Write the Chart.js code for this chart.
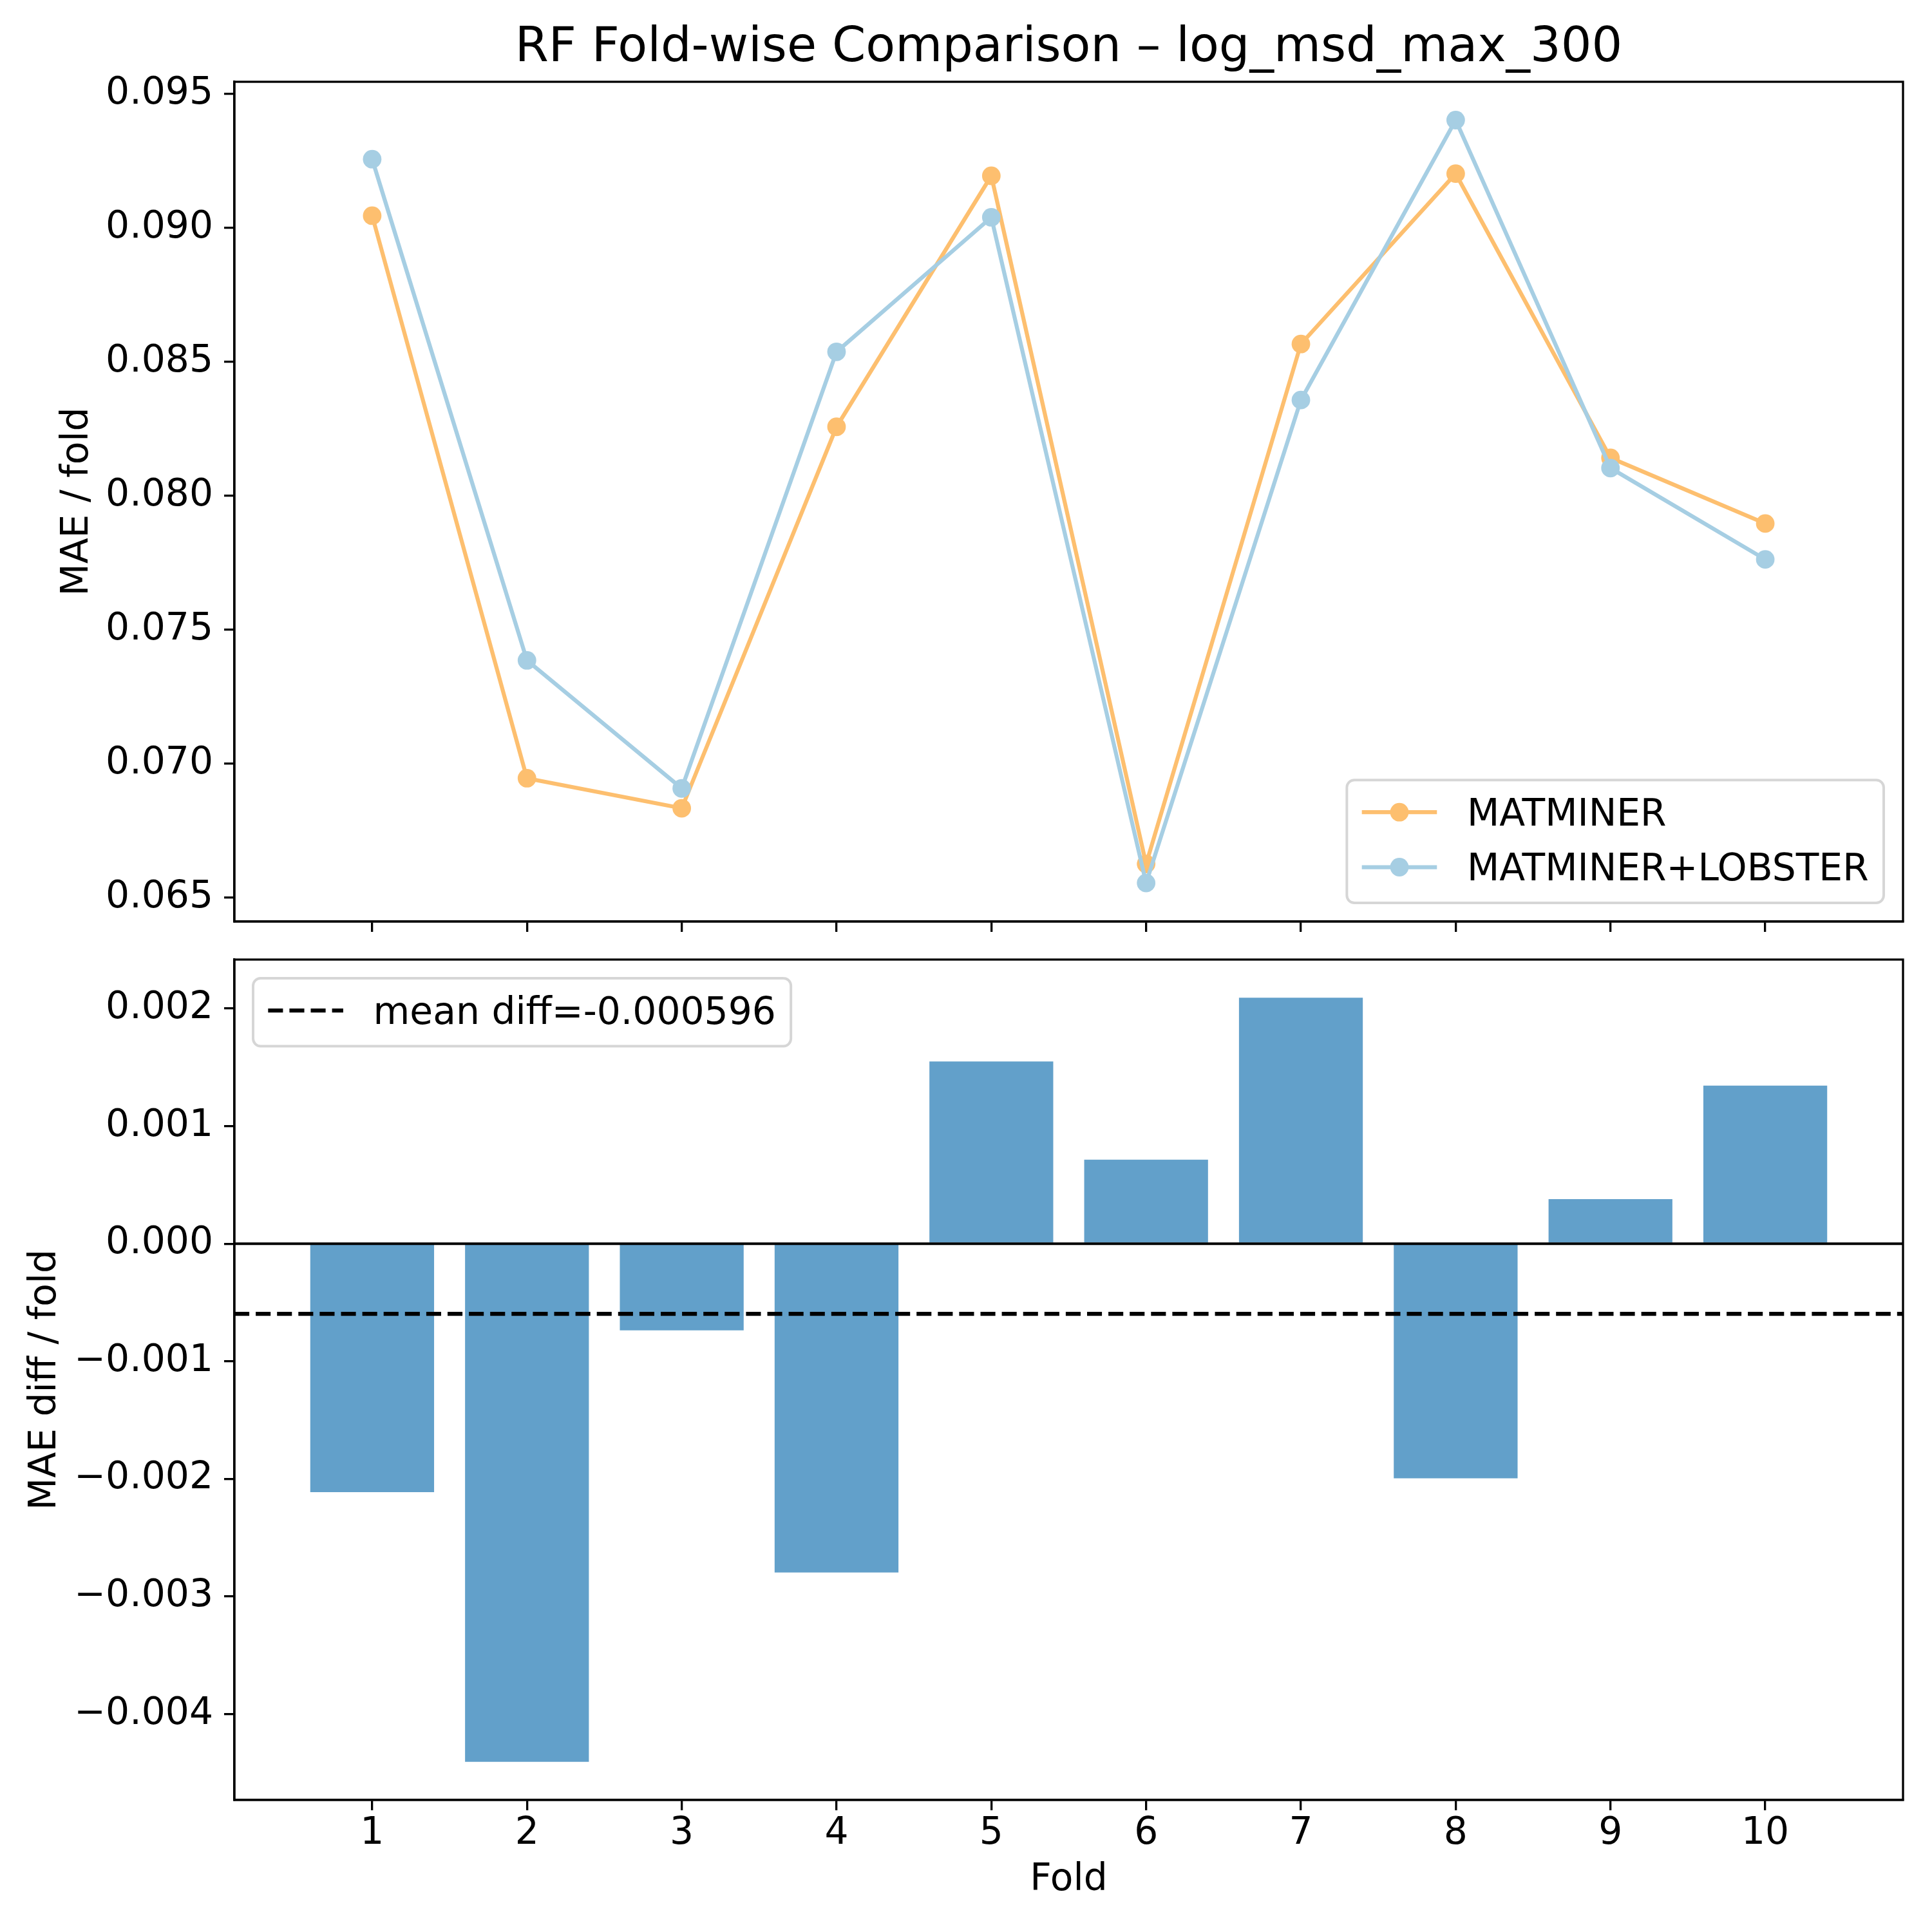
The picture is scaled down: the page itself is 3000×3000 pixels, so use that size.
<!DOCTYPE html>
<html>
<head>
<meta charset="utf-8">
<script src="https://cdn.jsdelivr.net/npm/chart.js@4.4.0/dist/chart.umd.min.js"></script>
<style>
  html, body { margin: 0; padding: 0; background: #ffffff; }
  #wrap { position: relative; width: 3000px; height: 3000px; background: #ffffff; }
  canvas { position: absolute; left: 0; }
</style>
</head>
<body>
<div id="wrap">
  <canvas id="topChart" width="3000" height="1460" style="top:0px"></canvas>
  <canvas id="botChart" width="3000" height="1540" style="top:1460px"></canvas>
</div>
<script>
// ---------------- data ----------------
const FOLDS = [1, 2, 3, 4, 5, 6, 7, 8, 9, 10];
const MATMINER = [0.09046, 0.06946, 0.06834, 0.08258, 0.09195, 0.06626, 0.08567, 0.09203, 0.08142, 0.07897];
const MATMINER_LOBSTER = [0.09257, 0.07386, 0.06908, 0.08538, 0.09040, 0.06555, 0.08358, 0.09403, 0.08104, 0.07763];
const MAE_DIFF = [-0.002114, -0.004407, -0.000737, -0.002797, 0.001550, 0.000715, 0.002092, -0.001995, 0.000379, 0.001344];
const MEAN_DIFF = -0.000596;
const TOP_Y_TICKS = [0.065, 0.070, 0.075, 0.080, 0.085, 0.090, 0.095];
const BOT_Y_TICKS = [-0.004, -0.003, -0.002, -0.001, 0.000, 0.001, 0.002];
const SERIES_NAMES = ['MATMINER', 'MATMINER+LOBSTER'];
const TITLE = 'RF Fold-wise Comparison \u2013 log_msd_max_300';
const TOP_Y_TITLE = 'MAE / fold';
const BOT_Y_TITLE = 'MAE diff / fold';
const X_TITLE = 'Fold';

// axis limits (matplotlib-style 5% margins)
const X_MIN = 0.11, X_MAX = 10.89;
const TOP_Y_MIN = 0.06411, TOP_Y_MAX = 0.09546;
const BOT_Y_MIN = -0.004732, BOT_Y_MAX = 0.002417;

// ---------------- style ----------------
const FONT = 'DejaVu Sans';
const FS = 58.3;
const C_ORANGE = '#fdbf6f';
const C_BLUE = '#a6cee3';
const C_BAR = 'rgba(31,119,180,0.7)';
const SPINE = 3.3;

Chart.defaults.font.family = FONT;
Chart.defaults.color = '#000';

function fmtTick(v) {
  const s = Math.abs(v).toFixed(3);
  return (v < -1e-12 ? '\u2212' : '') + s;
}

// frame + matplotlib-like legend
const mplDecor = {
  id: 'mplDecor',
  afterDraw(chart, args, o) {
    const ctx = chart.ctx, ca = chart.chartArea;
    ctx.save();
    // spines
    ctx.strokeStyle = '#000';
    ctx.lineWidth = SPINE;
    ctx.setLineDash([]);
    ctx.strokeRect(ca.left, ca.top, ca.right - ca.left, ca.bottom - ca.top);

    // legend
    const items = chart.data.datasets.filter(d => d.legendKind);
    if (items.length) {
      const PAD = 0.4 * FS, HANDLE = 2.0 * FS, TEXTPAD = 0.8 * FS;
      const BASE0 = 70.5, STEP = 85.3, BOTTOM = 35;
      ctx.font = FS + 'px "' + FONT + '"';
      const tw = Math.max(...items.map(d => ctx.measureText(d.label).width));
      const w = PAD * 2 + HANDLE + TEXTPAD + tw;
      const h = BASE0 + STEP * (items.length - 1) + BOTTOM;
      let x0, y0;
      if (o.loc === 'lower right') { x0 = ca.right - 30 - w; y0 = ca.bottom - 29 - h; }
      else { x0 = ca.left + 29; y0 = ca.top + 29; }
      const r = 0.2 * FS;
      ctx.beginPath();
      ctx.moveTo(x0 + r, y0);
      ctx.lineTo(x0 + w - r, y0);
      ctx.arcTo(x0 + w, y0, x0 + w, y0 + r, r);
      ctx.lineTo(x0 + w, y0 + h - r);
      ctx.arcTo(x0 + w, y0 + h, x0 + w - r, y0 + h, r);
      ctx.lineTo(x0 + r, y0 + h);
      ctx.arcTo(x0, y0 + h, x0, y0 + h - r, r);
      ctx.lineTo(x0, y0 + r);
      ctx.arcTo(x0, y0, x0 + r, y0, r);
      ctx.closePath();
      ctx.fillStyle = 'rgba(255,255,255,0.8)';
      ctx.fill();
      ctx.strokeStyle = 'rgba(204,204,204,0.8)';
      ctx.lineWidth = 4;
      ctx.stroke();

      items.forEach((d, i) => {
        const by = y0 + BASE0 + i * STEP;
        const cy = by - 20.5;
        const hx = x0 + PAD;
        ctx.beginPath();
        ctx.setLineDash(d.borderDash || []);
        ctx.lineCap = 'butt';
        ctx.strokeStyle = d.borderColor;
        ctx.lineWidth = d.borderWidth;
        ctx.moveTo(hx, cy);
        ctx.lineTo(hx + HANDLE, cy);
        ctx.stroke();
        ctx.setLineDash([]);
        if (d.legendKind === 'marker') {
          ctx.beginPath();
          ctx.fillStyle = d.pointBackgroundColor;
          ctx.arc(hx + HANDLE / 2, cy, d.pointRadius, 0, Math.PI * 2);
          ctx.fill();
        }
        ctx.fillStyle = '#000';
        ctx.textAlign = 'left';
        ctx.textBaseline = 'alphabetic';
        ctx.fillText(d.label, hx + HANDLE + TEXTPAD, by);
      });
    }
    ctx.restore();
  }
};

function yAxis(min, max, ticksArr, title, titlePadTop) {
  return {
    type: 'linear', min: min, max: max,
    afterBuildTicks: s => { s.ticks = ticksArr.map(v => ({ value: v })); },
    afterFit: s => { s.width = 364; s.paddingTop = 0; s.paddingBottom = 0; },
    ticks: { autoSkip: false, font: { family: FONT, size: FS }, color: '#000', padding: 17,
             callback: v => fmtTick(v) },
    grid: { display: true, drawOnChartArea: false, drawTicks: true, tickLength: 16,
            tickWidth: SPINE, lineWidth: SPINE, tickColor: '#000', color: '#000', offset: false },
    border: { display: true, color: '#000', width: SPINE },
    title: { display: true, text: title, font: { family: FONT, size: FS }, color: '#000',
             padding: { top: titlePadTop, bottom: 0 } }
  };
}

// ---------------- top chart ----------------
new Chart(document.getElementById('topChart'), {
  type: 'line',
  data: {
    datasets: [
      { label: SERIES_NAMES[0], legendKind: 'marker',
        data: FOLDS.map((f, i) => ({ x: f, y: MATMINER[i] })),
        borderColor: C_ORANGE, backgroundColor: C_ORANGE, pointBackgroundColor: C_ORANGE,
        borderWidth: 6.25, pointRadius: 14.4, pointBorderWidth: 0, pointHoverRadius: 14.4,
        tension: 0, order: 2 },
      { label: SERIES_NAMES[1], legendKind: 'marker',
        data: FOLDS.map((f, i) => ({ x: f, y: MATMINER_LOBSTER[i] })),
        borderColor: C_BLUE, backgroundColor: C_BLUE, pointBackgroundColor: C_BLUE,
        borderWidth: 6.25, pointRadius: 14.4, pointBorderWidth: 0, pointHoverRadius: 14.4,
        tension: 0, order: 1 }
    ]
  },
  options: {
    responsive: false, animation: false, devicePixelRatio: 1,
    layout: { padding: { left: 0, right: 45, top: 0, bottom: 0 } },
    plugins: {
      legend: { display: false }, tooltip: { enabled: false },
      title: { display: true, text: TITLE, fullSize: false, color: '#000',
               font: { family: FONT, size: 75, weight: 'normal' }, padding: { top: 31, bottom: 6 } },
      mplDecor: { loc: 'lower right' }
    },
    scales: {
      x: {
        type: 'linear', min: X_MIN, max: X_MAX, offset: false,
        afterBuildTicks: s => { s.ticks = FOLDS.map(v => ({ value: v })); },
        afterFit: s => { s.height = 29; s.paddingLeft = 0; s.paddingRight = 0; },
        ticks: { display: false, autoSkip: false },
        grid: { display: true, drawOnChartArea: false, drawTicks: true, tickLength: 16,
                tickWidth: SPINE, lineWidth: SPINE, tickColor: '#000', color: '#000', offset: false },
        border: { display: true, color: '#000', width: SPINE }
      },
      y: yAxis(TOP_Y_MIN, TOP_Y_MAX, TOP_Y_TICKS, TOP_Y_TITLE, 86)
    }
  },
  plugins: [mplDecor]
});

// ---------------- bottom chart ----------------
new Chart(document.getElementById('botChart'), {
  type: 'bar',
  data: {
    datasets: [
      { type: 'bar', label: 'diff',
        data: FOLDS.map((f, i) => ({ x: f, y: MAE_DIFF[i] })),
        backgroundColor: C_BAR, borderWidth: 0, barPercentage: 0.8, categoryPercentage: 1.0, order: 3 },
      { type: 'line', label: 'zero',
        data: [{ x: X_MIN, y: 0 }, { x: X_MAX, y: 0 }],
        borderColor: '#000', borderWidth: 4, pointRadius: 0, fill: false, order: 2 },
      { type: 'line', label: 'mean diff=' + MEAN_DIFF.toFixed(6), legendKind: 'dash',
        data: [{ x: X_MIN, y: MEAN_DIFF }, { x: X_MAX, y: MEAN_DIFF }],
        borderColor: '#000', borderWidth: 6.25, borderDash: [23.1, 10], pointRadius: 0, fill: false, order: 1 }
    ]
  },
  options: {
    responsive: false, animation: false, devicePixelRatio: 1,
    layout: { padding: { left: 0, right: 45, top: 30, bottom: 0 } },
    plugins: {
      legend: { display: false }, tooltip: { enabled: false },
      mplDecor: { loc: 'upper left' }
    },
    scales: {
      x: {
        type: 'linear', min: X_MIN, max: X_MAX, offset: false,
        afterBuildTicks: s => { s.ticks = FOLDS.map(v => ({ value: v })); },
        afterFit: s => { s.height = 205; s.paddingLeft = 0; s.paddingRight = 0; },
        ticks: { autoSkip: false, maxRotation: 0, font: { family: FONT, size: FS }, color: '#000', padding: 2,
                 callback: v => String(v) },
        grid: { display: true, drawOnChartArea: false, drawTicks: true, tickLength: 16,
                tickWidth: SPINE, lineWidth: SPINE, tickColor: '#000', color: '#000', offset: false },
        border: { display: true, color: '#000', width: SPINE },
        title: { display: true, text: X_TITLE, font: { family: FONT, size: FS }, color: '#000',
                 padding: { top: 0, bottom: 45 } }
      },
      y: yAxis(BOT_Y_MIN, BOT_Y_MAX, BOT_Y_TICKS, BOT_Y_TITLE, 36)
    }
  },
  plugins: [mplDecor]
});
</script>
</body>
</html>
